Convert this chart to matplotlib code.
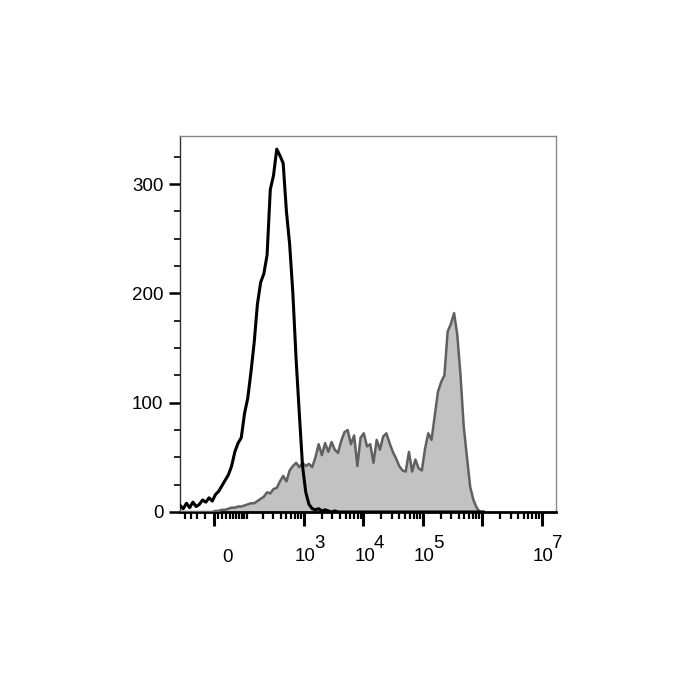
import numpy as np
import matplotlib.pyplot as plt

plt.rcParams['font.family'] = ['Liberation Sans', 'DejaVu Sans']

# asinh display width and channel grid (asinh units)
W = 60.0
ch_start, ch_step = -1.3, 0.125

# isotype control (black outline), counts per channel
isotype = [6, 3, 8, 4, 9, 5, 7, 11, 9, 13,
           10, 16, 19, 24, 29, 34, 42, 55, 63, 68,
           90, 104, 128, 155, 190, 210, 218, 235, 295, 308,
           332, 326, 319, 275, 245, 200, 140, 90, 42, 18,
           7, 3, 2, 3, 1, 2, 1, 0, 1, 0,
           0, 0, 0, 0, 0, 0, 0, 0, 0, 0,
           0, 0, 0, 0, 0, 0, 0, 0, 0, 0,
           0, 0, 0, 0, 0, 0, 0, 0, 0, 0,
           0, 0, 0, 0, 0, 0, 0, 0, 0, 0,
           0, 0, 0, 0, 0]

# stained sample (grey filled), counts per channel
stained = [0, 0, 0, 0, 0, 0, 0, 0, 0, 0,
           0, 1, 1, 2, 2, 3, 4, 4, 5, 5,
           6, 7, 8, 8, 10, 12, 14, 18, 17, 21,
           22, 28, 33, 28, 38, 42, 45, 41, 45, 42,
           44, 41, 50, 62, 52, 63, 55, 64, 57, 54,
           65, 73, 75, 62, 70, 42, 68, 72, 60, 62,
           45, 66, 57, 69, 72, 63, 55, 49, 42, 38,
           37, 55, 37, 48, 40, 38, 58, 72, 66, 88,
           110, 119, 125, 165, 172, 182, 162, 125, 78, 50,
           23, 11, 4, 0, 0]

major_x = [0, 1e3, 1e4, 1e5, 1e6, 1e7]
x_labels = {0: '0', 1e3: '3', 1e4: '4', 1e5: '5', 1e7: '7'}
minor_x = ([-80, -60, -40, -20] + list(range(10, 100, 10)) + list(range(100, 1000, 100))
           + [m * 10 ** k for k in range(3, 7) for m in range(2, 10)])


def fwd(x):
    return np.arcsinh(np.asarray(x, dtype=float) / W)


def inv(y):
    return W * np.sinh(np.asarray(y, dtype=float))


fl = inv(ch_start + ch_step * np.arange(len(stained)))

fig = plt.figure(figsize=(7, 7), dpi=100)
ax = fig.add_axes([180 / 700, 188 / 700, 376 / 700, 376 / 700])
ax.set_xscale('function', functions=(fwd, inv))

ax.fill_between(fl, stained, color='#c2c2c2', lw=0, zorder=2)
ax.plot(fl, stained, color='#606060', lw=1.8, zorder=3)
ax.plot(fl, isotype, color='black', lw=2.2, zorder=4)

ax.set_xlim(-102, 1.75e7)
ax.set_ylim(0, 344)

ax.set_xticks(major_x)
ax.set_xticks(minor_x, minor=True)
ax.set_xticklabels([])
ax.tick_params(axis='x', which='major', length=10, width=2.2, color='black')
ax.tick_params(axis='x', which='minor', length=5, width=1.6, color='black')

ax.set_yticks([0, 100, 200, 300])
ax.set_yticks(np.arange(0, 344, 25), minor=True)
ax.tick_params(axis='y', which='major', length=8, width=1.8, pad=4, labelsize=13.5)
ax.tick_params(axis='y', which='minor', length=4, width=1.2)

for s in ['top', 'right']:
    ax.spines[s].set_color('#888888')
    ax.spines[s].set_linewidth(1.0)
ax.spines['left'].set_color('#333333')
ax.spines['left'].set_linewidth(1.0)
ax.spines['bottom'].set_color('black')
ax.spines['bottom'].set_linewidth(2.0)

# decade labels drawn as "10" plus a full-size exponent
for v, exp in x_labels.items():
    if v == 0:
        ax.annotate('0', xy=(v, 0), xycoords=('data', 'axes fraction'),
                    xytext=(10, -33), textcoords='offset points',
                    ha='center', va='center', fontsize=13.5)
        continue
    ax.annotate('10', xy=(v, 0), xycoords=('data', 'axes fraction'),
                xytext=(1, -32), textcoords='offset points',
                ha='center', va='center', fontsize=13.5)
    ax.annotate(exp, xy=(v, 0), xycoords=('data', 'axes fraction'),
                xytext=(11, -23), textcoords='offset points',
                ha='center', va='center', fontsize=13.5)

fig.savefig('out.png', dpi=100)
